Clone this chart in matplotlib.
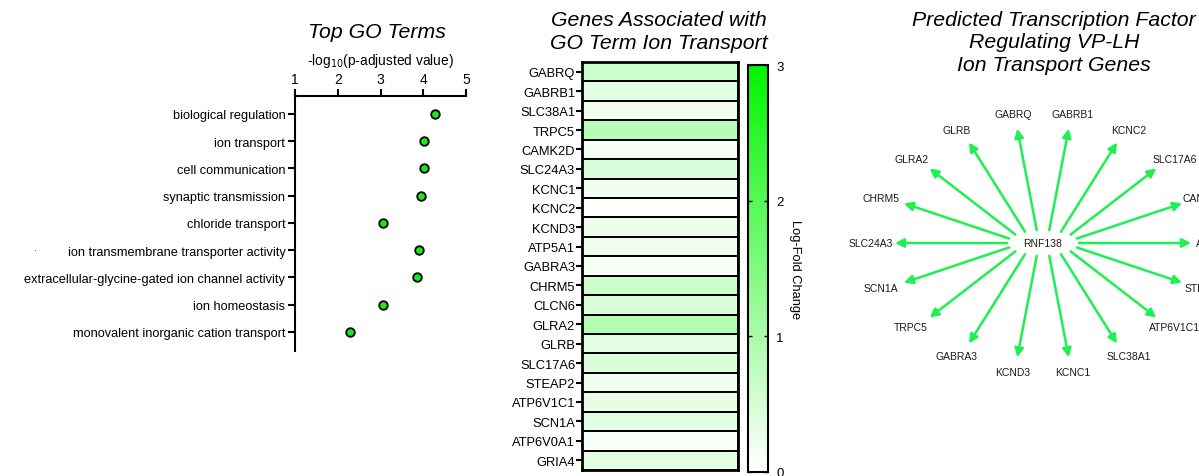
import numpy as np
import matplotlib.pyplot as plt
from matplotlib.colors import LinearSegmentedColormap

plt.rcParams['font.family'] = ['Liberation Sans', 'DejaVu Sans']

# GO term enrichment
go_terms = ['biological regulation', 'ion transport', 'cell communication',
            'synaptic transmission', 'chloride transport',
            'ion transmembrane transporter activity',
            'extracellular-glycine-gated ion channel activity',
            'ion homeostasis', 'monovalent inorganic cation transport']
go_scores = [4.27, 4.02, 4.02, 3.95, 3.06, 3.90, 3.85, 3.06, 2.29]

# genes under "ion transport" with log-fold change
genes = ['GABRQ', 'GABRB1', 'SLC38A1', 'TRPC5', 'CAMK2D', 'SLC24A3', 'KCNC1',
         'KCNC2', 'KCND3', 'ATP5A1', 'GABRA3', 'CHRM5', 'CLCN6', 'GLRA2',
         'GLRB', 'SLC17A6', 'STEAP2', 'ATP6V1C1', 'SCN1A', 'ATP6V0A1', 'GRIA4']
lfc = [0.60, 0.35, 0.18, 0.85, 0.15, 0.45, 0.18, 0.0, 0.25, 0.22, 0.12,
       0.62, 0.45, 0.90, 0.35, 0.45, 0.18, 0.30, 0.35, 0.10, 0.35]

# RNF138 targets, counter-clockwise starting from the right
tf_name = 'RNF138'
targets = ['ATP5A1', 'CAMK2D', 'SLC17A6', 'KCNC2', 'GABRB1', 'GABRQ', 'GLRB',
           'GLRA2', 'CHRM5', 'SLC24A3', 'SCN1A', 'TRPC5', 'GABRA3', 'KCND3',
           'KCNC1', 'SLC38A1', 'ATP6V1C1', 'STEAP2']

W, H = 1199, 477
fig = plt.figure(figsize=(W / 100, H / 100), dpi=100)


def box(x0, y0, x1, y1):
    # pixel box (top-left origin) -> figure fraction rect
    return [x0 / W, 1 - y1 / H, (x1 - x0) / W, (y1 - y0) / H]


def ptext(x, y, s, **kw):
    # figure text placed by pixel position
    return fig.text(x / W, 1 - y / H, s, **kw)


title_kw = dict(fontsize=15.3, style='italic', ha='center', va='center',
                linespacing=1.22)
green_dot = '#1ee61e'

# ---- panel 1: dot plot of GO terms
ax1 = fig.add_axes(box(295, 97, 466, 352))
yy = np.arange(len(go_terms))
ax1.scatter(go_scores, yy, s=38, color=green_dot, edgecolor='black',
            linewidth=1.3, zorder=3, clip_on=False)
ax1.set_xlim(1, 5)
ax1.set_ylim(8.7, -0.66)
ax1.set_yticks(yy)
ax1.set_yticklabels(go_terms, fontsize=9.2)
ax1.set_xticks([1, 2, 3, 4, 5])
ax1.xaxis.tick_top()
ax1.xaxis.set_label_position('top')
ax1.tick_params(axis='x', labelsize=10, width=1.5, length=5, pad=2)
ax1.tick_params(axis='y', width=1.5, length=5, pad=2)
ax1.set_xlabel('-log$_{10}$(p-adjusted value)', fontsize=9.9, labelpad=6)
for s in ['right', 'bottom']:
    ax1.spines[s].set_visible(False)
for s in ['top', 'left']:
    ax1.spines[s].set_linewidth(1.5)
ptext(377, 32, 'Top GO Terms', **title_kw)
ptext(35, 252, '·', fontsize=6, ha='center', va='center')

# ---- panel 2: heatmap of log-fold change
cmap = LinearSegmentedColormap.from_list('wg', ['#ffffff', '#00f500'])
ax2 = fig.add_axes(box(582, 63, 738, 471))
vals = np.array(lfc).reshape(-1, 1)
mesh = ax2.pcolormesh(vals, cmap=cmap, vmin=0, vmax=3,
                      edgecolors='black', linewidth=1.2)
ax2.set_ylim(len(genes), 0)
ax2.set_xlim(0, 1)
ax2.set_yticks(np.arange(len(genes)) + 0.5)
ax2.set_yticklabels(genes, fontsize=9.3)
ax2.set_xticks([])
ax2.tick_params(axis='y', width=1.5, length=4, pad=1)
for s in ax2.spines.values():
    s.set_linewidth(2)
ptext(659, 32, 'Genes Associated with\nGO Term Ion Transport', **title_kw)

cax = fig.add_axes(box(748, 66, 768, 473))
cb = fig.colorbar(mesh, cax=cax, ticks=[0, 1, 2, 3])
cb.outline.set_linewidth(1.5)
cax.tick_params(direction='in', left=True, right=True, length=3,
                width=1, labelsize=9.5, pad=6)
cb.set_label('Log-Fold Change', rotation=270, fontsize=9.3, labelpad=12)

# ---- panel 3: transcription factor network
ax3 = fig.add_axes(box(830, 0, 1199, 477))
ax3.set_xlim(830, 1199)
ax3.set_ylim(477, 0)
ax3.axis('off')
cx, cy = 1043, 244
arrow_col = '#1ef052'
n = len(targets)
for k, g in enumerate(targets):
    th = np.deg2rad(360.0 * k / n)
    c, s = np.cos(th), np.sin(th)
    x0, y0 = cx + 36 * c, cy - 13 * s
    x1, y1 = cx + 148 * c, cy - 116 * s
    ax3.annotate('', xy=(x1, y1), xytext=(x0, y0),
                 arrowprops=dict(arrowstyle='-|>', color=arrow_col, lw=1.8,
                                 mutation_scale=13, shrinkA=0, shrinkB=0),
                 annotation_clip=False)
    ax3.text(cx + 172 * c, cy - 131 * s, g, fontsize=7.5, ha='center',
             va='center', color='#1a1a1a', clip_on=False)
ax3.text(cx, cy, tf_name, fontsize=7.5, ha='center', va='center',
         color='#1a1a1a')
ptext(1054, 43,
      'Predicted Transcription Factor\nRegulating VP-LH\nIon Transport Genes',
      **title_kw)

fig.savefig('out.png', dpi=100)
